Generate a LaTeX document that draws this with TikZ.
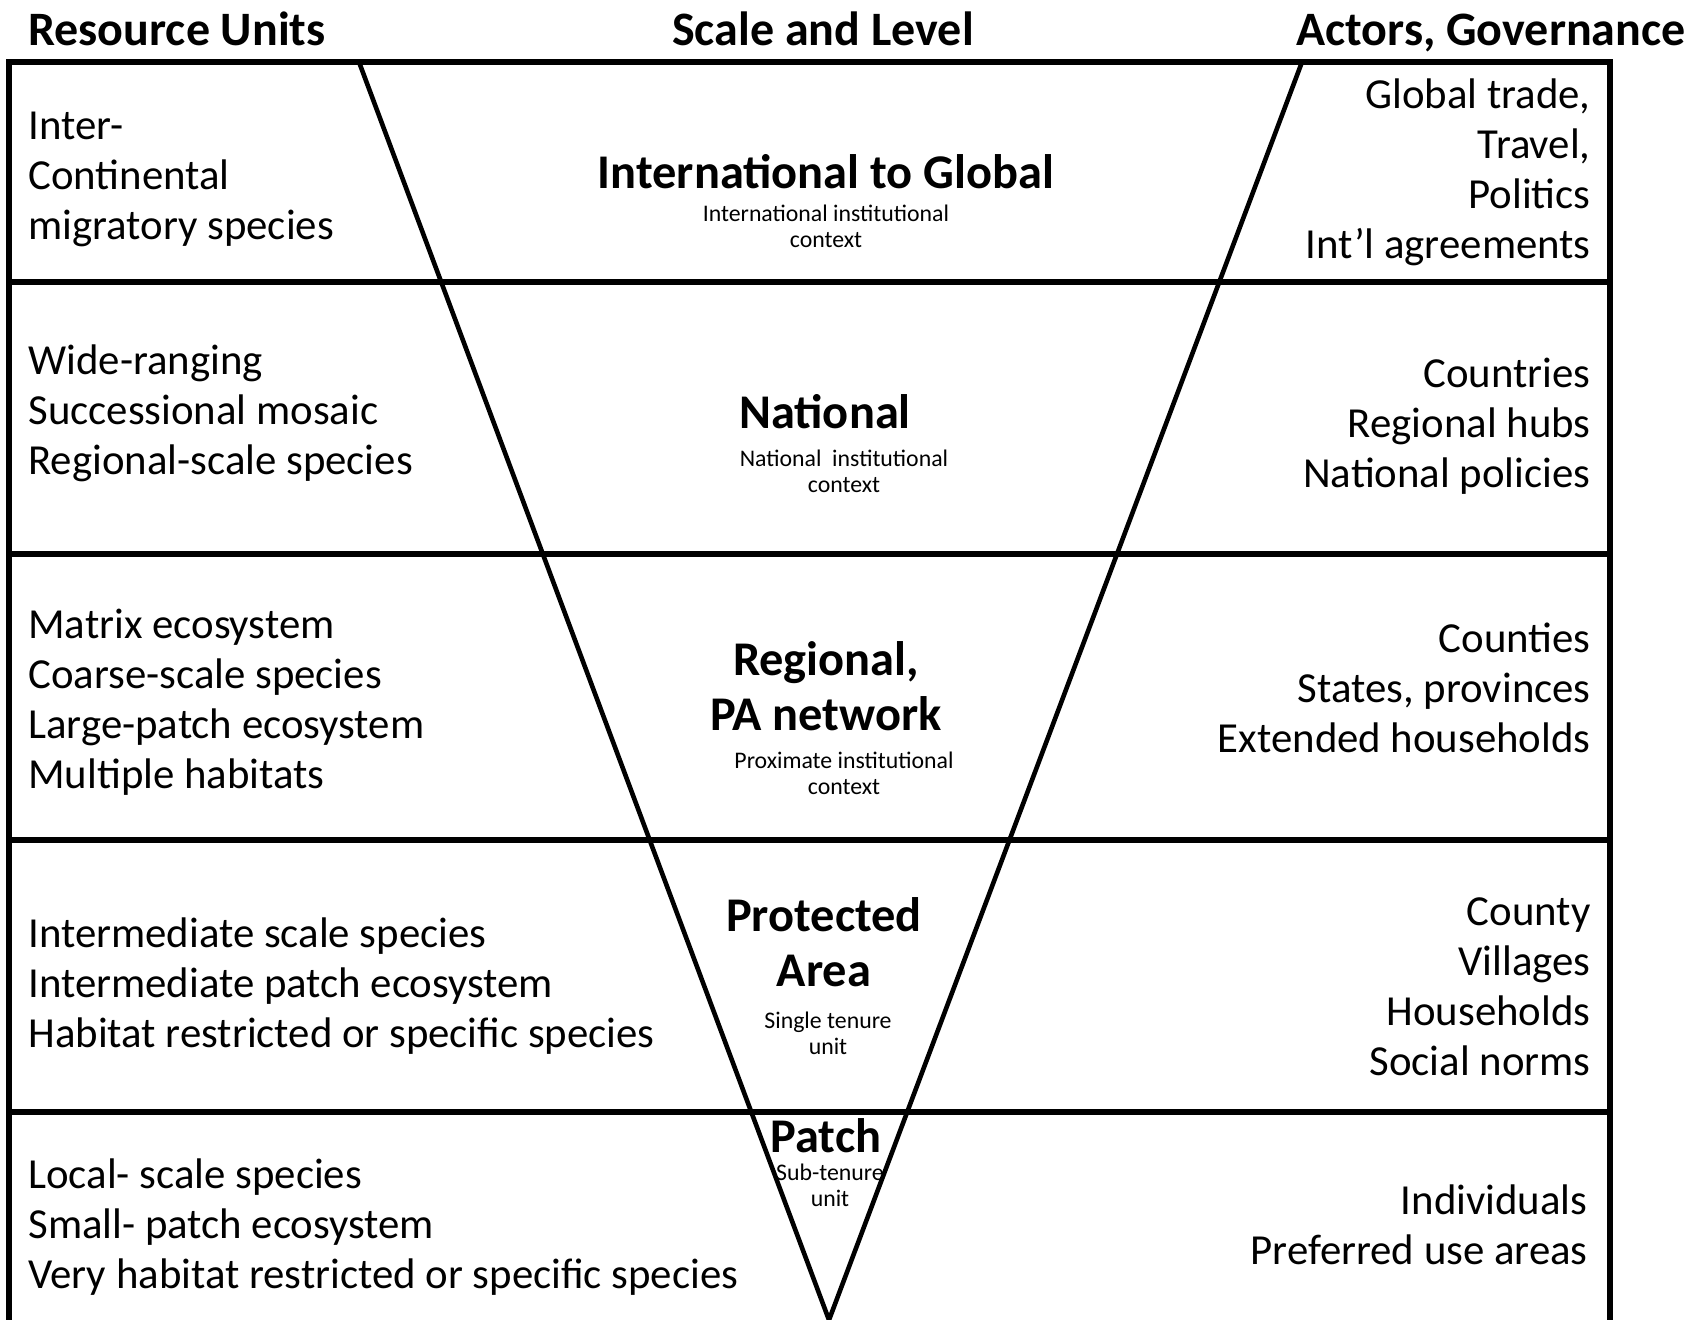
\documentclass[tikz,border=0pt]{standalone}
\usepackage{fontspec}
\setmainfont{Carlito}
\usetikzlibrary{positioning}
\tikzset{frame/.style=
   {draw,
    line width=2.6pt}}
\tikzset{head/.style={font=\fontsize{24}{28}\selectfont\bfseries, anchor=base, inner sep=0pt}}
\tikzset{units/.style={font=\fontsize{21.4}{25}\selectfont, align=left, anchor=west, inner sep=0pt}}
\tikzset{actors/.style={font=\fontsize{21.4}{25}\selectfont, align=right, anchor=east, inner sep=0pt}}
\tikzset{level/.style={font=\fontsize{24.2}{27.5}\selectfont\bfseries, align=center, inner sep=0pt}}
\tikzset{context/.style={font=\fontsize{11.9}{13}\selectfont, align=center, inner sep=0pt}}

\begin{document}
\begin{tikzpicture}[x=0.5pt, y=-0.5pt]

    \useasboundingbox (0,0) rectangle (1705,1320);

    % Headers
    \node [head] (hunits) at (177,46) {Resource Units};
    \node [head] (hscale) at (823,46) {Scale and Level};
    \node [head] (hactors) at (1491,46) {Actors, Governance};

    % Frame and rows
    \draw [frame] (9,1320) -- (9,62) -- (1610,62) -- (1610,1320);
    \foreach \y in {282,554,840,1112}
        \draw [frame] (9,\y) -- (1610,\y);

    % Funnel
    \coordinate (tl) at (359,62);
    \coordinate (tr) at (1302,62);
    \coordinate (apex) at (829,1320);
    \draw [frame, line width=2.3pt] (tl) -- (apex) -- (tr);

    % Resource units
    \node [units] (u1) at (28,179) {Inter-\\Continental\\migratory species};
    \node [units] (u2) at (28,413) {Wide-ranging\\Successional mosaic\\Regional-scale species};
    \node [units] (u3) at (28,702) {Matrix ecosystem\\Coarse-scale species\\Large-patch ecosystem\\Multiple habitats};
    \node [units] (u4) at (28,986) {Intermediate scale species\\Intermediate patch ecosystem\\Habitat restricted or specific species};
    \node [units] (u5) at (28,1227) {Local- scale species\\Small- patch ecosystem\\Very habitat restricted or specific species};

    % Actors, governance
    \node [actors] (a1) at (1591,172) {Global trade,\\Travel,\\Politics\\Int’l agreements};
    \node [actors] (a2) at (1591,426) {Countries\\Regional hubs\\National policies};
    \node [actors] (a3) at (1591,688) {Counties\\States, provinces\\Extended households};
    \node [actors] (a4) at (1591,987) {County\\Villages\\Households\\Social norms};
    \node [actors] (a5) at (1588,1225) {Individuals\\Preferred use areas};

    % Scale and level
    \node [level] (intl) at (826,172) {International to Global};
    \node [context] (intlc) at (826,226) {International institutional\\context};
    \node [level] (natl) at (825,412) {National};
    \node [context] (natlc) at (844,471) {National\ \ institutional\\context};
    \node [level] (regl) at (826,686) {Regional,\\PA network};
    \node [context] (reglc) at (844,773) {Proximate institutional\\context};
    \node [level] (prot) at (824,942) {Protected\\Area};
    \node [context] (protc) at (828,1033) {Single tenure\\unit};
    \node [level] (patch) at (826,1136) {Patch};
    \node [context] (patchc) at (830,1185) {Sub-tenure\\unit};

\end{tikzpicture}
\end{document}
